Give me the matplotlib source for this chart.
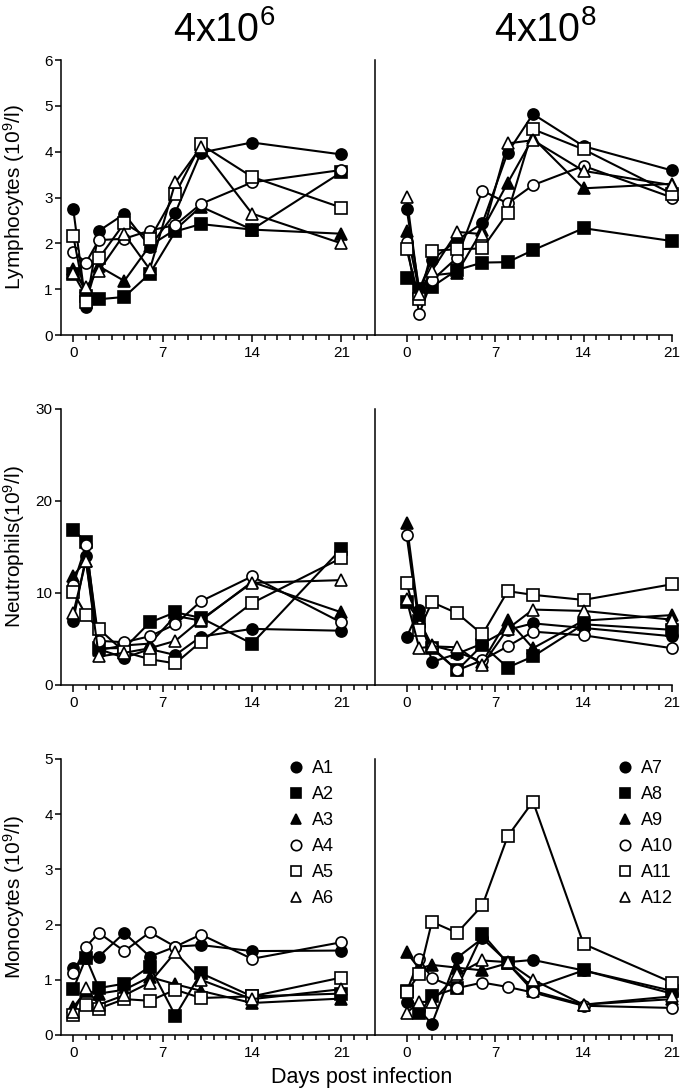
import matplotlib
matplotlib.use("Agg")
import matplotlib.pyplot as plt
from matplotlib.ticker import FixedLocator

plt.rcParams["font.family"] = ["Liberation Sans", "DejaVu Sans"]
plt.rcParams["mathtext.fontset"] = "custom"
plt.rcParams["mathtext.rm"] = "Liberation Sans"
plt.rcParams["mathtext.it"] = "Liberation Sans:italic"

# sampling days
days = [0, 1, 2, 4, 6, 8, 10, 14, 21]

# animal labels
labels_low = ["A1", "A2", "A3", "A4", "A5", "A6"]
labels_high = ["A7", "A8", "A9", "A10", "A11", "A12"]

# Lymphocytes (10^9/l), dose 4x10^6, rows = A1..A6
lymph_low = [
    [2.75, 0.62, 2.27, 2.64, 1.93, 2.67, 3.98, 4.20, 3.94],
    [1.34, 0.85, 0.78, 0.83, 1.34, 2.26, 2.42, 2.30, 3.55],
    [1.45, 0.95, 1.50, 1.18, 1.95, 2.30, 2.80, 2.30, 2.21],
    [1.81, 1.58, 2.07, 2.10, 2.28, 2.40, 2.86, 3.33, 3.60],
    [2.16, 0.72, 1.67, 2.44, 2.10, 3.08, 4.16, 3.45, 2.78],
    [1.35, 1.05, 1.40, 2.20, 1.43, 3.33, 4.10, 2.65, 2.00],
]
# Lymphocytes, dose 4x10^8, rows = A7..A12
lymph_high = [
    [2.76, 1.00, 1.64, 2.07, 2.44, 3.98, 4.82, 4.12, 3.59],
    [1.24, 1.00, 1.05, 1.42, 1.58, 1.59, 1.85, 2.33, 2.05],
    [2.28, 0.95, 1.30, 1.36, 2.30, 3.32, 4.30, 3.20, 3.30],
    [2.02, 0.46, 1.19, 1.69, 3.15, 2.87, 3.27, 3.69, 3.00],
    [1.87, 0.79, 1.84, 1.87, 1.89, 2.67, 4.49, 4.05, 3.08],
    [3.02, 0.90, 1.40, 2.25, 2.20, 4.18, 4.25, 3.58, 3.27],
]

# Neutrophils (10^9/l)
neut_low = [
    [7.0, 14.0, 3.9, 2.96, 3.9, 3.26, 5.26, 6.1, 5.9],
    [16.9, 15.5, 4.0, 4.0, 6.8, 7.9, 7.3, 4.5, 14.8],
    [11.9, 13.5, 3.8, 4.3, 4.5, 7.5, 7.0, 11.2, 7.9],
    [10.9, 15.2, 4.8, 4.65, 5.3, 6.6, 9.1, 11.8, 6.8],
    [10.1, 7.6, 6.1, 3.6, 2.8, 2.35, 4.7, 8.9, 13.8],
    [7.8, 13.5, 3.1, 3.5, 4.0, 4.8, 7.1, 11.1, 11.4],
]
neut_high = [
    [5.2, 8.2, 2.5, 3.4, 4.5, 6.0, 6.7, 6.2, 5.3],
    [9.0, 7.0, 4.0, 1.6, 4.35, 1.9, 3.1, 6.6, 6.0],
    [17.6, 7.0, 4.3, 3.6, 2.5, 7.1, 4.0, 7.0, 7.6],
    [16.3, 6.4, 4.1, 1.6, 2.7, 4.2, 5.8, 5.4, 4.0],
    [11.1, 6.0, 9.0, 7.8, 5.5, 10.2, 9.8, 9.25, 10.95],
    [9.3, 4.0, 4.2, 4.1, 2.2, 6.1, 8.2, 8.05, 7.1],
]

# Monocytes (10^9/l)
mono_low = [
    [1.21, 1.40, 1.42, 1.85, 1.42, 1.60, 1.63, 1.52, 1.53],
    [0.83, 1.40, 0.85, 0.93, 1.24, 0.35, 1.12, 0.70, 0.75],
    [0.50, 0.80, 0.75, 0.82, 1.05, 0.92, 0.80, 0.58, 0.66],
    [1.12, 1.60, 1.85, 1.52, 1.86, 1.60, 1.82, 1.38, 1.68],
    [0.37, 0.55, 0.48, 0.65, 0.62, 0.82, 0.67, 0.70, 1.04],
    [0.42, 0.85, 0.55, 0.72, 0.95, 1.50, 1.00, 0.65, 0.83],
]
mono_high = [
    [0.60, 0.45, 0.20, 1.40, 1.75, 1.32, 1.36, 1.17, 0.75],
    [0.80, 0.40, 0.70, 0.85, 1.83, 1.30, 0.85, 1.17, 0.80],
    [1.50, 1.20, 1.27, 1.22, 1.17, 1.30, 0.80, 0.55, 0.65],
    [0.78, 1.38, 1.03, 0.85, 0.95, 0.87, 0.77, 0.53, 0.49],
    [0.78, 1.10, 2.05, 1.85, 2.35, 3.60, 4.23, 1.65, 0.95],
    [0.40, 0.60, 0.60, 1.10, 1.35, 1.32, 1.00, 0.55, 0.70],
]

ylabels = ["Lymphocytes (10$^9$/l)", "Neutrophils(10$^9$/l)", "Monocytes (10$^9$/l)"]
ymax = [6, 30, 5]
ystep = [1, 10, 1]

markers = ["o", "s", "^", "o", "s", "^"]
faces = ["black", "black", "black", "white", "white", "white"]

fig = plt.figure(figsize=(6.8, 10.91), dpi=100)

W, H = 680.0, 1091.0
row_px = [(60, 335), (409, 685), (759, 1035)]
left_px = (61, 375)
right_px = (375, 672)

panels = [(lymph_low, lymph_high), (neut_low, neut_high), (mono_low, mono_high)]


def style_axis(ax, show_y):
    ax.spines["top"].set_visible(False)
    ax.spines["right"].set_visible(False)
    for s in ["left", "bottom"]:
        ax.spines[s].set_linewidth(1.1)
    ax.xaxis.set_major_locator(FixedLocator([0, 7, 14, 21]))
    ax.tick_params(axis="x", which="major", length=5, width=1.1, labelsize=11, pad=3)
    ax.tick_params(axis="x", which="minor", length=3.5, width=1.1)
    if show_y:
        ax.tick_params(axis="y", length=4, width=1.1, labelsize=11, pad=2)
    else:
        ax.tick_params(axis="y", left=False, labelleft=False)


for r, (low, high) in enumerate(panels):
    top, bot = row_px[r]
    b = 1 - bot / H
    h = (bot - top) / H
    axl = fig.add_axes([left_px[0] / W, b, (left_px[1] - left_px[0]) / W, h])
    axr = fig.add_axes([right_px[0] / W, b, (right_px[1] - right_px[0]) / W, h])

    for i, vals in enumerate(low):
        axl.plot(days, vals, color="black", lw=1.5, marker=markers[i], ms=8,
                 mfc=faces[i], mec="black", mew=1.2, clip_on=False, label=labels_low[i])
    for i, vals in enumerate(high):
        axr.plot(days, vals, color="black", lw=1.5, marker=markers[i], ms=8,
                 mfc=faces[i], mec="black", mew=1.2, clip_on=False, label=labels_high[i])

    axl.set_xlim(-0.96, 23.64)
    axr.set_xlim(-2.5, 21.0)
    for ax in (axl, axr):
        ax.set_ylim(0, ymax[r])
        ax.set_yticks(range(0, ymax[r] + 1, ystep[r]))
    axl.xaxis.set_minor_locator(FixedLocator(range(0, 24)))
    axr.xaxis.set_minor_locator(FixedLocator(range(0, 22)))
    style_axis(axl, True)
    style_axis(axr, False)
    axl.set_ylabel(ylabels[r], fontsize=15)
    axl.yaxis.set_label_coords(-0.108, 0.5)

    if r == 2:
        for ax, x0 in ((axl, 287.0), (axr, 616.0)):
            leg = ax.legend(loc="upper left", bbox_to_anchor=(x0 / W, 1 - 760 / H),
                            bbox_transform=fig.transFigure, frameon=False,
                            fontsize=13, handlelength=1.0, handletextpad=0.4,
                            labelspacing=0.5, borderpad=0, borderaxespad=0)
            for hd in leg.legend_handles:
                hd.set_linestyle("none")
                hd.set_markersize(7.5)

fig.text(224 / W, 1 - 41 / H, "4x10$^6$", fontsize=28.5, ha="center", va="baseline")
fig.text(545 / W, 1 - 41 / H, "4x10$^8$", fontsize=28.5, ha="center", va="baseline")
fig.text(362 / W, 1 - 1078 / H, "Days post infection", fontsize=15.5, ha="center", va="center")

fig.savefig("out.png", dpi=100)
